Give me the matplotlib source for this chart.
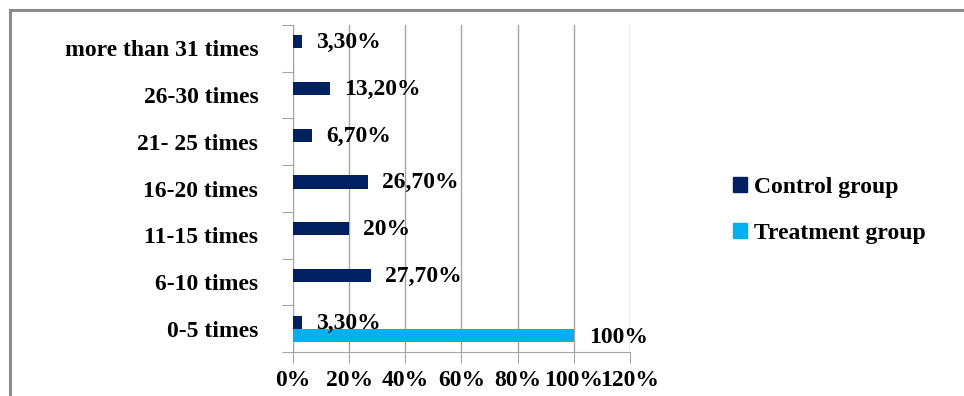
"""
Frequency distribution: control vs treatment group
"""

import matplotlib
matplotlib.use("Agg")
import matplotlib.pyplot as plt
from matplotlib.patches import Patch, Rectangle


# data

categories = ['0-5 times', '6-10 times', '11-15 times', '16-20 times',
              '21- 25 times', '26-30 times', 'more than 31 times']
control = [3.3, 27.7, 20, 26.7, 6.7, 13.2, 3.3]
treatment = [100, 0, 0, 0, 0, 0, 0]
control_labels = ['3,30%', '27,70%', '20%', '26,70%', '6,70%', '13,20%', '3,30%']
treatment_labels = ['100%', '', '', '', '', '', '']
x_ticks = [0, 20, 40, 60, 80, 100, 120]

navy = '#002060'
cyan = '#00B0F0'
grid_gray = '#a6a6a6'
FS = 17

plt.rcParams['font.family'] = ['Liberation Serif', 'DejaVu Serif']
plt.rcParams['font.weight'] = 'bold'

W, H = 964, 396
fig = plt.figure(figsize=(W / 100, H / 100), dpi=100)

# outer frame (cut by the image edge on the right and bottom)
fig.patches.append(Rectangle((10 / W, -0.1), 1.2, (H - 10) / H + 0.1,
                             transform=fig.transFigure, fill=False,
                             edgecolor='#8c8c8c', linewidth=2.2))

ax = fig.add_axes([293 / W, (H - 352) / H, 337 / W, 327 / H])

y = list(range(len(categories)))
h = 0.28
ax.barh([v + 0.14 for v in y], control, height=h, color=navy, zorder=3)
ax.barh([v - 0.15 for v in y], treatment, height=h, color=cyan, zorder=3)

for i in y:
    ax.text(control[i] + 5.0, i + 0.12, control_labels[i], ha='left',
            va='center', fontsize=FS, fontweight='bold')
    if treatment_labels[i]:
        ax.text(treatment[i] + 5.5, i - 0.18, treatment_labels[i], ha='left',
                va='center', fontsize=FS, fontweight='bold')

ax.set_xlim(0, 120)
ax.set_ylim(-0.5, len(categories) - 0.5)

ax.set_xticks(x_ticks)
ax.set_xticklabels([f'{t}%' for t in x_ticks], fontsize=FS, fontweight='bold')
ax.xaxis.grid(True, color=grid_gray, linewidth=1)
ax.set_axisbelow(True)

ax.set_yticks([v - 0.5 for v in range(len(categories) + 1)])
ax.set_yticklabels([])
ax.set_yticks(y, minor=True)
ax.set_yticklabels(categories, minor=True, fontsize=FS, fontweight='bold')
ax.tick_params(axis='y', which='minor', length=0, pad=25)
ax.tick_params(axis='y', which='major', length=8, color=grid_gray)
ax.tick_params(axis='x', length=8, color=grid_gray, pad=5)

for side in ['top', 'right']:
    ax.spines[side].set_visible(False)
for side in ['left', 'bottom']:
    ax.spines[side].set_color(grid_gray)

handles = [Patch(color=navy, label='Control group'),
           Patch(color=cyan, label='Treatment group')]
fig.legend(handles=handles, loc='upper left',
           bbox_to_anchor=(712 / W, (H - 156) / H), frameon=False,
           prop={'size': FS, 'weight': 'bold'}, handlelength=0.6,
           handleheight=0.6, handletextpad=0.3, labelspacing=1.05)

fig.savefig('out.png', dpi=100)
